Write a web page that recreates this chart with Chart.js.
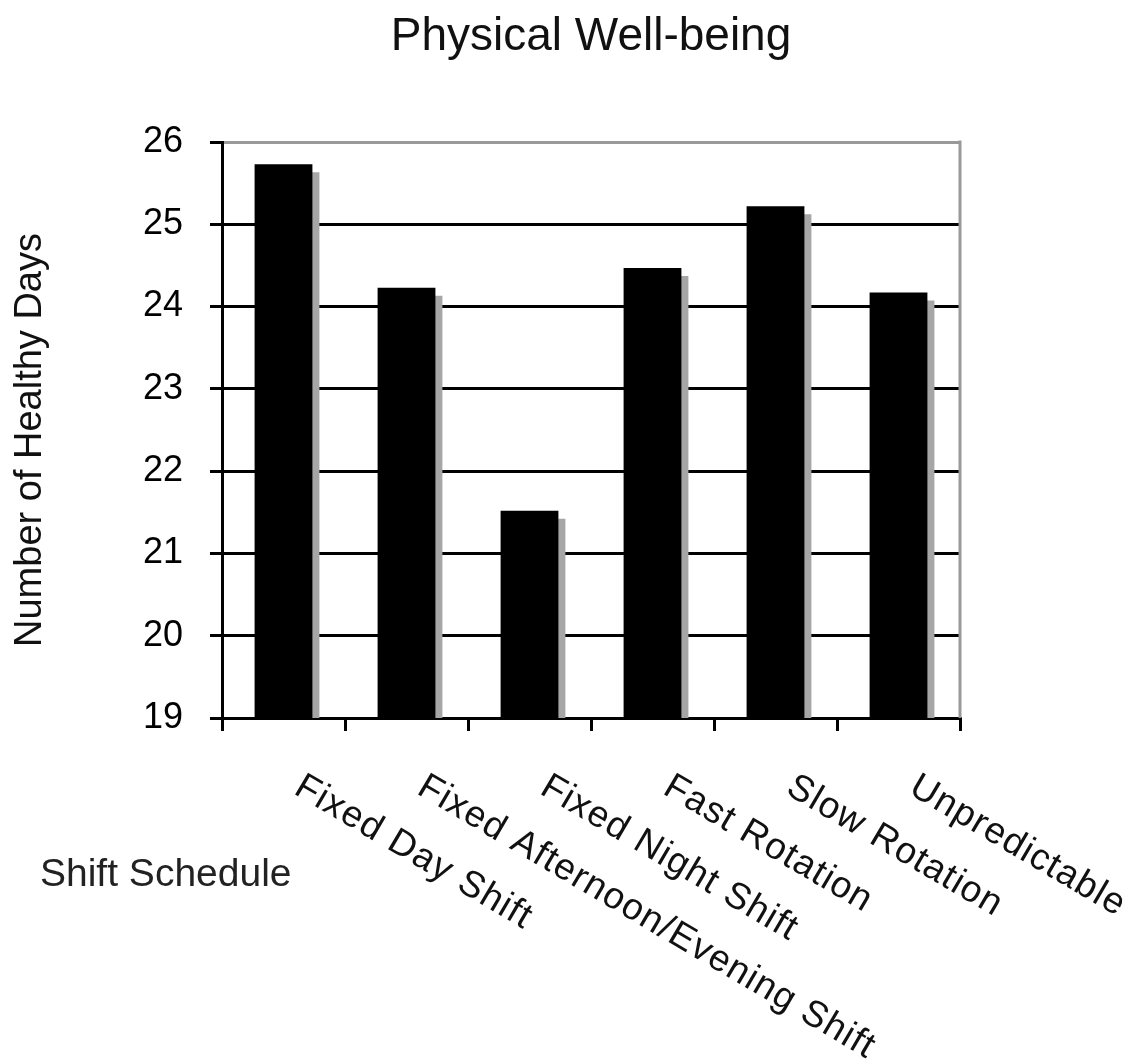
<!DOCTYPE html>
<html>
<head>
<meta charset="utf-8">
<title>Physical Well-being</title>
<script src="https://cdn.jsdelivr.net/npm/chart.js@4/dist/chart.umd.min.js"></script>
<style>
  html, body { margin: 0; padding: 0; background: #fff; }
  .graph { width: 1142px; height: 1064px; }
</style>
</head>
<body>
<div class="graph">
  <canvas id="chart" width="1142" height="1064"></canvas>
</div>
<script>
// chart data
const chartTitle = 'Physical Well-being';
const yTitle = 'Number of Healthy Days';
const xTitle = 'Shift Schedule';
const shiftLabels = [
    'Fixed Day Shift',
    'Fixed Afternoon/Evening Shift',
    'Fixed Night Shift',
    'Fast Rotation',
    'Slow Rotation',
    'Unpredictable'
];
const healthyDays = [25.73, 24.23, 21.52, 24.47, 25.22, 24.17];
const yMin = 19;
const yMax = 26;

const FONT = '"Liberation Sans", Arial, sans-serif';

// grey drop shadow behind the bars
const barShadow = {
    id: 'barShadow',
    beforeDatasetsDraw(chart) {
        const ctx = chart.ctx;
        ctx.save();
        ctx.shadowColor = '#a6a6a6';
        ctx.shadowOffsetX = 7;
        ctx.shadowOffsetY = 8;
        ctx.shadowBlur = 0;
    },
    afterDatasetsDraw(chart) {
        chart.ctx.restore();
    }
};

// title, axis captions, slanted category labels, right frame line
const extras = {
    id: 'extras',
    afterDraw(chart) {
        const ctx = chart.ctx;
        const area = chart.chartArea;
        const xScale = chart.scales.x;
        ctx.save();

        // right border of plot
        ctx.strokeStyle = '#999';
        ctx.lineWidth = 3;
        ctx.beginPath();
        ctx.moveTo(area.right, area.top - 1.5);
        ctx.lineTo(area.right, area.bottom);
        ctx.stroke();

        ctx.fillStyle = '#111';
        ctx.font = '46px ' + FONT;
        ctx.textAlign = 'center';
        ctx.textBaseline = 'alphabetic';
        ctx.fillText(chartTitle, (area.left + area.right) / 2, 50);

        ctx.font = '38px ' + FONT;
        ctx.save();
        ctx.translate(31, 440);
        ctx.rotate(-Math.PI / 2);
        ctx.textBaseline = 'middle';
        ctx.fillText(yTitle, 0, 0);
        ctx.restore();

        ctx.font = '39px ' + FONT;
        ctx.textAlign = 'left';
        ctx.textBaseline = 'middle';
        ctx.fillStyle = '#222';
        ctx.fillText(xTitle, 40, 875);

        // category labels slanting down to the right
        ctx.fillStyle = '#111';
        ctx.font = '37px ' + FONT;
        ctx.letterSpacing = '1.2px';
        ctx.textBaseline = 'alphabetic';
        shiftLabels.forEach((label, i) => {
            const x = xScale.getPixelForValue(i);
            ctx.save();
            ctx.translate(x + 9, 793);
            ctx.rotate(30.5 * Math.PI / 180);
            ctx.fillText(label, 0, 0);
            ctx.restore();
        });
        ctx.restore();
    }
};

const ctx = document.getElementById('chart').getContext('2d');
new Chart(ctx, {
    type: 'bar',
    data: {
        labels: shiftLabels,
        datasets: [{
            label: yTitle,
            data: healthyDays,
            backgroundColor: '#000',
            borderWidth: 0,
            barPercentage: 0.47,
            categoryPercentage: 1,
            clip: 0
        }]
    },
    options: {
        responsive: false,
        animation: false,
        layout: {
            padding: { top: 142, right: 182, bottom: 0, left: 0 }
        },
        plugins: {
            legend: { display: false },
            title: { display: false },
            tooltip: { enabled: false }
        },
        scales: {
            x: {
                offset: true,
                grid: {
                    offset: true,
                    drawOnChartArea: false,
                    drawTicks: true,
                    tickLength: 13,
                    color: '#000',
                    lineWidth: 3
                },
                border: { display: true, color: '#000', width: 3 },
                ticks: { display: false },
                afterFit(scale) {
                    scale.height = 1064 - 718;
                }
            },
            y: {
                min: yMin,
                max: yMax,
                grid: {
                    color: (c) => (c.tick && c.tick.value === yMax ? '#999' : '#000'),
                    tickColor: '#000',
                    lineWidth: 3,
                    tickLength: 12
                },
                border: { display: true, color: '#000', width: 3 },
                ticks: {
                    stepSize: 1,
                    padding: 27,
                    color: '#000',
                    font: { family: FONT, size: 36 }
                },
                afterFit(scale) {
                    scale.width = 222;
                }
            }
        }
    },
    plugins: [barShadow, extras]
});
</script>
</body>
</html>
